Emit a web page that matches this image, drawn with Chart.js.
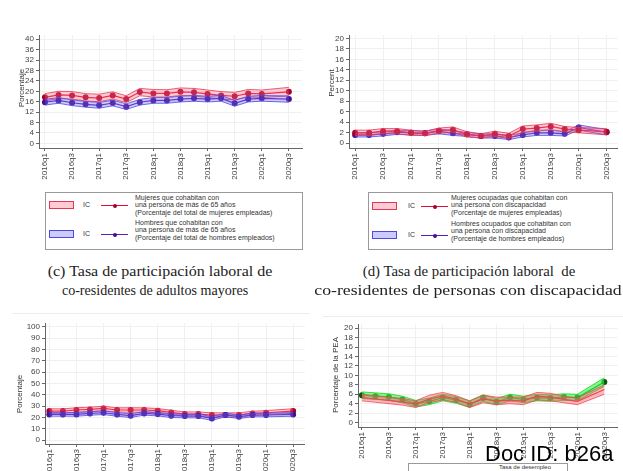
<!DOCTYPE html>
<html>
<head>
<meta charset="utf-8">
<script src="https://cdn.jsdelivr.net/npm/chart.js@4"></script>
<style>
body{margin:0;width:623px;height:471px;overflow:hidden;background:#fff;position:relative;font-family:"Liberation Sans",Arial,sans-serif}
canvas{position:absolute}
.ytitle{position:absolute;transform:translate(-50%,-50%) rotate(-90deg);font-size:8px;color:#333;white-space:nowrap}
.legend{position:absolute;border:1px solid #999;box-sizing:border-box;background:#fff;overflow:hidden}
.sw{position:absolute;width:25px;height:8px;box-sizing:border-box}
.ic{position:absolute;font-size:7px;color:#333}
.ln{position:absolute;height:1px}
.dot{position:absolute;width:4px;height:4px;border-radius:50%}
.txt{position:absolute;font-size:7px;line-height:7.4px;color:#333;white-space:nowrap}
.cap{position:absolute;font-family:"Liberation Serif",serif;font-size:15.5px;color:#222;white-space:nowrap;transform:translateX(-50%)}
.rule{position:absolute;height:1px;background:#ececec}
</style>
</head>
<body>
<canvas id="chartC" width="310" height="170" style="left:0;top:20px"></canvas>
<canvas id="chartD" width="313" height="170" style="left:310px;top:20px"></canvas>
<div class="rule" style="left:12px;top:313px;width:298px"></div>
<div class="rule" style="left:323px;top:316px;width:300px"></div>
<canvas id="chartE" width="310" height="161" style="left:0;top:310px"></canvas>
<canvas id="chartF" width="313" height="161" style="left:310px;top:310px"></canvas>

<div class="ytitle" style="left:21px;top:88px">Porcentaje</div>
<div class="ytitle" style="left:331px;top:83px">Percent</div>
<div class="ytitle" style="left:19px;top:394px">Porcentaje</div>
<div class="ytitle" style="left:335px;top:375px">Porcentaje de la PEA</div>

<div id="legC" class="legend" style="left:45px;top:192px;width:258px;height:58px"></div>
<div id="legD" class="legend" style="left:368px;top:192px;width:245px;height:58px"></div>
<div class="legend" style="left:408px;top:463px;width:160px;height:20px">
  <div class="txt" style="left:90px;top:0px;font-size:6px">Tasa de desempleo</div>
</div>

<div class="cap" data-w="225" style="left:160px;top:262px">(c) Tasa de participación laboral de</div>
<div class="cap" data-w="186" style="left:155px;top:281px">co-residentes de adultos mayores</div>
<div class="cap" data-w="212" style="left:469px;top:262px">(d) Tasa de participación laboral&nbsp; de</div>
<div class="cap" data-w="308" style="left:468px;top:281px">co-residentes de personas con discapacidad</div>

<div style="position:absolute;left:485px;top:441px;font-size:22px;color:#000;white-space:nowrap">Doc ID: b26a</div>

<script>
// Quarters 2016q1 .. 2020q3 (2020q2 has no observation)
const quarters = ['2016q1','2016q2','2016q3','2016q4','2017q1','2017q2','2017q3','2017q4',
  '2018q1','2018q2','2018q3','2018q4','2019q1','2019q2','2019q3','2019q4','2020q1','2020q2','2020q3'];
const quarterTicks = [0, 2, 4, 6, 8, 10, 12, 14, 16, 18];

// (c) co-residentes de adultos mayores
const mujeresMayores    = [17.7, 18.6, 18.4, 17.7, 17.4, 18.4, 17.0, 19.7, 19.2, 19.2, 19.8, 19.6, 19.0, 18.4, 18.1, 19.2, 19.0, null, 19.8];
const mujeresMayoresHi  = [19.1, 20.0, 19.9, 19.1, 18.9, 19.8, 18.3, 21.1, 20.7, 20.6, 21.3, 21.1, 20.5, 19.9, 19.6, 20.7, 20.5, null, 21.5];
const mujeresMayoresLo  = [16.3, 17.2, 17.0, 16.3, 16.0, 17.0, 15.7, 18.3, 17.8, 17.8, 18.4, 18.2, 17.6, 17.0, 16.7, 17.8, 17.6, null, 18.2];
const hombresMayores    = [15.8, 16.5, 15.6, 15.0, 14.6, 15.5, 14.1, 15.8, 16.5, 16.5, 17.0, 17.3, 17.0, 17.3, 15.4, 17.0, 17.3, null, 17.0];
const hombresMayoresHi  = [16.9, 17.6, 16.7, 16.1, 15.7, 16.6, 15.2, 16.9, 17.6, 17.6, 18.1, 18.4, 18.1, 18.4, 16.5, 18.1, 18.4, null, 18.2];
const hombresMayoresLo  = [14.7, 15.4, 14.5, 13.9, 13.5, 14.4, 13.0, 14.7, 15.4, 15.4, 15.9, 16.2, 15.9, 16.2, 14.3, 15.9, 16.2, null, 15.8];
const yTicksC = [0, 4, 8, 12, 16, 20, 24, 28, 32, 36, 40];

// (d) co-residentes de personas con discapacidad
const mujeresDisc   = [2.0, 2.0, 2.3, 2.3, 2.0, 1.9, 2.4, 2.6, 1.7, 1.4, 1.8, 1.4, 2.7, 2.9, 3.2, 2.7, 2.5, null, 2.2];
const mujeresDiscHi = [2.5, 2.5, 2.8, 2.8, 2.5, 2.3, 2.9, 3.1, 2.2, 1.8, 2.3, 1.9, 3.3, 3.5, 3.8, 3.2, 3.0, null, 2.8];
const mujeresDiscLo = [1.5, 1.5, 1.8, 1.8, 1.5, 1.5, 1.9, 2.1, 1.2, 1.0, 1.3, 0.9, 2.1, 2.3, 2.6, 2.2, 2.0, null, 1.6];
const hombresDisc   = [1.6, 1.6, 1.8, 2.1, 2.0, 1.9, 2.3, 1.9, 1.7, 1.4, 1.4, 1.1, 1.6, 2.0, 2.0, 1.8, 3.0, null, 2.1];
const hombresDiscHi = [2.0, 2.0, 2.2, 2.5, 2.4, 2.3, 2.8, 2.3, 2.1, 1.8, 1.8, 1.5, 2.0, 2.5, 2.5, 2.2, 3.5, null, 2.6];
const hombresDiscLo = [1.2, 1.2, 1.4, 1.7, 1.6, 1.5, 1.8, 1.5, 1.3, 1.0, 1.0, 0.7, 1.2, 1.5, 1.5, 1.4, 2.5, null, 1.6];
const yTicksD = [0, 2, 4, 6, 8, 10, 12, 14, 16, 18, 20];

// bottom left (0-100)
const mujeresAbajo   = [25.6, 25.6, 26.5, 27.0, 27.9, 26.5, 26.5, 26.5, 25.9, 24.4, 22.9, 22.9, 22.1, 22.1, 22.1, 23.5, 24.1, null, 25.6];
const mujeresAbajoHi = [27.6, 27.5, 28.5, 29.0, 29.9, 28.4, 28.5, 28.4, 27.8, 26.3, 24.8, 24.8, 24.0, 24.0, 24.0, 25.4, 26.0, null, 27.6];
const mujeresAbajoLo = [23.6, 23.7, 24.5, 25.0, 25.9, 24.6, 24.5, 24.6, 24.0, 22.5, 21.0, 21.0, 20.2, 20.2, 20.2, 21.6, 22.2, null, 23.6];
const hombresAbajo   = [22.6, 22.6, 22.6, 23.5, 24.1, 22.6, 21.5, 23.5, 22.9, 21.5, 21.2, 21.2, 19.1, 22.1, 20.6, 22.1, 22.1, null, 22.6];
const hombresAbajoHi = [24.2, 24.1, 24.2, 25.1, 25.7, 24.2, 23.1, 25.0, 24.5, 23.1, 22.8, 22.8, 20.8, 23.7, 22.2, 23.7, 23.7, null, 24.2];
const hombresAbajoLo = [21.0, 21.1, 21.0, 21.9, 22.5, 21.0, 19.9, 22.0, 21.3, 19.9, 19.6, 19.6, 17.4, 20.5, 19.0, 20.5, 20.5, null, 21.0];
const yTicksE = [0, 10, 20, 30, 40, 50, 60, 70, 80, 90, 100];

// bottom right: tasa de desempleo (% de la PEA)
const desempleoRojo     = [5.3, 5.0, 4.7, 4.4, 3.9, 5.0, 5.6, 5.0, 3.9, 5.0, 4.6, 4.7, 4.6, 5.6, 5.4, 4.9, 4.5, null, 7.0];
const desempleoRojoHi   = [6.0, 5.7, 5.4, 5.1, 4.6, 5.8, 6.4, 5.7, 4.6, 5.8, 5.4, 5.4, 5.4, 6.4, 6.2, 5.6, 5.2, null, 8.0];
const desempleoRojoLo   = [4.6, 4.3, 4.0, 3.7, 3.2, 4.2, 4.8, 4.3, 3.2, 4.2, 3.8, 4.0, 3.8, 4.8, 4.6, 4.2, 3.8, null, 6.0];
const desempleoVerde    = [5.8, 5.6, 5.4, 4.9, 4.0, 4.5, 5.3, 4.8, 3.9, 5.2, 4.4, 5.3, 4.9, 5.3, 5.2, 5.4, 5.3, null, 8.6];
const desempleoVerdeHi  = [6.5, 6.3, 6.1, 5.6, 4.7, 5.2, 6.0, 5.5, 4.6, 5.9, 5.1, 6.0, 5.6, 6.0, 5.9, 6.1, 6.0, null, 9.5];
const desempleoVerdeLo  = [5.1, 4.9, 4.7, 4.2, 3.3, 3.8, 4.6, 4.1, 3.2, 4.5, 3.7, 4.6, 4.2, 4.6, 4.5, 4.7, 4.6, null, 7.7];
const yTicksF = [0, 2, 4, 6, 8, 10, 12, 14, 16, 18, 20];

const RED = {line: '#e0103a', edge: '#ea3550', fill: 'rgba(255,110,135,0.35)', dot: '#a8002a'};
const BLUE = {line: '#5a22b4', edge: '#4a4ae6', fill: 'rgba(115,105,240,0.35)', dot: '#461090'};
const PINK = {line: '#e23040', edge: '#f04a55', fill: 'rgba(255,95,110,0.45)', dot: '#b01020'};
const GREEN = {line: '#0a7a0a', edge: '#22d022', fill: 'rgba(40,250,70,0.6)', dot: '#0b560b'};

function toPts(arr) {
    return arr.map((v, i) => ({x: i, y: v}));
}

// lower edge, upper edge filled down to it, then the central line
function bandSets(lo, hi, mid, c, markers) {
    return [
        {data: toPts(lo), borderColor: c.edge, borderWidth: 0.8, pointRadius: 0, fill: false, spanGaps: true},
        {data: toPts(hi), borderColor: c.edge, borderWidth: 0.8, pointRadius: 0, fill: '-1', backgroundColor: c.fill, spanGaps: true},
        {data: toPts(mid), borderColor: c.line, borderWidth: 1.2, pointRadius: markers ? 2.4 : 0,
         pointBackgroundColor: c.dot, pointBorderColor: c.dot, fill: false, spanGaps: true}
    ];
}

function makePanel(id, datasets, p) {
    const tickFont = {family: 'Liberation Sans', size: 8};
    new Chart(document.getElementById(id), {
        type: 'line',
        data: {datasets: datasets},
        options: {
            responsive: false,
            animation: false,
            events: [],
            layout: {padding: p.pad},
            plugins: {legend: {display: false}, tooltip: {enabled: false}},
            elements: {line: {tension: 0}},
            scales: {
                x: {
                    type: 'linear', min: p.xMin, max: p.xMax,
                    afterBuildTicks: s => { s.ticks = quarterTicks.map(v => ({value: v})); },
                    afterFit: s => { s.height = p.xHeight; },
                    ticks: {autoSkip: false, minRotation: 90, maxRotation: 90, font: tickFont, color: '#444', padding: 2,
                            callback: v => quarters[v]},
                    grid: {color: '#f0f0f0', tickColor: '#666', tickLength: 3},
                    border: {color: '#666'}
                },
                y: {
                    min: p.yMin, max: p.yMax,
                    afterBuildTicks: s => { s.ticks = p.yTicks.map(v => ({value: v})); },
                    afterFit: s => { s.width = p.yWidth; },
                    ticks: {autoSkip: false, font: tickFont, color: '#444', padding: 2},
                    grid: {color: '#f0f0f0', tickColor: '#666', tickLength: 3},
                    border: {color: '#666'}
                }
            }
        }
    });
}

makePanel('chartC',
    bandSets(hombresMayoresLo, hombresMayoresHi, hombresMayores, BLUE, true)
        .concat(bandSets(mujeresMayoresLo, mujeresMayoresHi, mujeresMayores, RED, true)),
    {pad: {top: 15, right: 8, left: 0, bottom: 0}, xMin: -0.44, xMax: 18.97, xHeight: 42,
     yMin: -1.8, yMax: 41.65, yTicks: yTicksC, yWidth: 39});

makePanel('chartD',
    bandSets(mujeresDiscLo, mujeresDiscHi, mujeresDisc, RED, true)
        .concat(bandSets(hombresDiscLo, hombresDiscHi, hombresDisc, BLUE, true)),
    {pad: {top: 15, right: 3, left: 0, bottom: 0}, xMin: -0.44, xMax: 18.8, xHeight: 42,
     yMin: -0.9, yMax: 20.63, yTicks: yTicksD, yWidth: 39});

makePanel('chartE',
    bandSets(hombresAbajoLo, hombresAbajoHi, hombresAbajo, BLUE, true)
        .concat(bandSets(mujeresAbajoLo, mujeresAbajoHi, mujeresAbajo, RED, true)),
    {pad: {top: 13, right: 5, left: 0, bottom: 0}, xMin: -0.32, xMax: 18.86, xHeight: 27,
     yMin: -3.5, yMax: 103.3, yTicks: yTicksE, yWidth: 45});

makePanel('chartF',
    bandSets(desempleoRojoLo, desempleoRojoHi, desempleoRojo, PINK, false)
        .concat(bandSets(desempleoVerdeLo, desempleoVerdeHi, desempleoVerde, GREEN, true)),
    {pad: {top: 14, right: 0, left: 0, bottom: 0}, xMin: -0.29, xMax: 19.0, xHeight: 44,
     yMin: -0.94, yMax: 20.9, yTicks: yTicksF, yWidth: 48});

// legends (HTML boxes under the top panels)
function legendEntry(box, top, swTop, c, lines, x) {
    const el = document.getElementById(box);
    el.insertAdjacentHTML('beforeend',
        `<div class="sw" style="left:3px;top:${swTop}px;background:${c.fill};border:1px solid ${c.edge}"></div>` +
        `<div class="ic" style="left:${x.ic}px;top:${swTop}px">IC</div>` +
        `<div class="ln" style="left:${x.ln}px;top:${swTop + 4}px;width:27px;background:${c.line}"></div>` +
        `<div class="dot" style="left:${x.ln + 12}px;top:${swTop + 2.5}px;background:${c.dot}"></div>` +
        `<div class="txt" style="left:${x.txt}px;top:${top}px">${lines.join('<br>')}</div>`);
}
legendEntry('legC', 1, 8, RED, ['Mujeres que cohabitan con', 'una persona de más de 65 años',
    '(Porcentaje del total de mujeres empleadas)'], {ic: 37, ln: 55, txt: 89});
legendEntry('legC', 26, 37, BLUE, ['Hombres que cohabitan con', 'una persona de más de 65 años',
    '(Porcentaje del total de hombres empleados)'], {ic: 37, ln: 55, txt: 89});
legendEntry('legD', 1, 9, RED, ['Mujeres ocupadas que cohabitan con', 'una persona con discapacidad',
    '(Porcentaje de mujeres empleadas)'], {ic: 39, ln: 52, txt: 82});
legendEntry('legD', 27, 38, BLUE, ['Hombres ocupados que cohabitan con', 'una persona con discapacidad',
    '(Porcentaje de hombres empleados)'], {ic: 39, ln: 52, txt: 82});

// captions: stretch each line to the width it has in the scan
document.querySelectorAll('.cap').forEach(el => {
    const k = Number(el.dataset.w) / el.offsetWidth;
    el.style.transform = `translateX(-50%) scaleX(${k.toFixed(3)})`;
});
</script>
</body>
</html>
